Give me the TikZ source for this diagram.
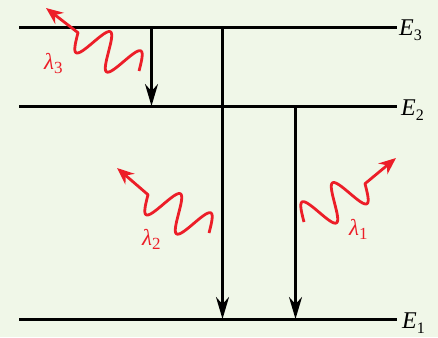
\documentclass[tikz,border=0pt]{standalone}
\usepackage{fontspec}
\setmainfont{Liberation Serif}
\usetikzlibrary{arrows.meta}
\definecolor{bg}{RGB}{240,247,232}
\definecolor{phred}{RGB}{236,30,40}
\begin{document}
\begin{tikzpicture}[x=1pt,y=-1pt,
  level/.style={line width=3pt},
  trans/.style={line width=2.4pt,-{Stealth[length=22pt,width=13pt]}},
  photon/.style={phred,line width=2.8pt,line join=round,-{Stealth[length=17pt,width=14pt]}},
  elabel/.style={anchor=base west,inner sep=0pt,font=\fontsize{24}{24}\selectfont},
  wlabel/.style={anchor=base west,inner sep=0pt,text=phred,font=\fontsize{23}{23}\selectfont}]
\fill[bg] (0,0) rectangle (438,337);
\useasboundingbox (0,0) rectangle (438,337);
% energy levels
\coordinate (l3a) at (19,28);  \coordinate (l3b) at (397,28);
\coordinate (l2a) at (19,106); \coordinate (l2b) at (397,106);
\coordinate (l1a) at (19,319); \coordinate (l1b) at (397,319);
\draw[level] (l3a) -- (l3b);
\draw[level] (l2a) -- (l2b);
\draw[level] (l1a) -- (l1b);
\node[elabel] (E3) at (399,36) {\textit{E}\raisebox{-5pt}{\fontsize{16}{16}\selectfont 3}};
\node[elabel] (E2) at (401,115) {\textit{E}\raisebox{-5pt}{\fontsize{16}{16}\selectfont 2}};
\node[elabel] (E1) at (402,328) {\textit{E}\raisebox{-5pt}{\fontsize{16}{16}\selectfont 1}};
% transitions
\coordinate (t1s) at (151.5,28);  \coordinate (t1e) at (151.5,106);
\coordinate (t2s) at (222.5,28);  \coordinate (t2e) at (222.5,319);
\coordinate (t3s) at (295.5,106); \coordinate (t3e) at (295.5,319);
\draw[trans] (t1s) -- (t1e);
\draw[trans] (t2s) -- (t2e);
\draw[trans] (t3s) -- (t3e);
% photons
\coordinate (p3tip) at (46,8);
\coordinate (p2tip) at (117,168);
\coordinate (p1tip) at (396,158);
\draw[photon] plot[domain=0:72,samples=90,smooth] ({139-0.847*\x+18*0.532*sin(10*\x)},{71-0.532*\x-18*0.847*sin(10*\x)}) -- (p3tip);
\draw[photon] plot[domain=0:72,samples=90,smooth] ({209-0.847*\x+18*0.532*sin(10*\x)},{233-0.532*\x-18*0.847*sin(10*\x)}) -- (p2tip);
\draw[photon] plot[domain=0:72,samples=90,smooth] ({304+0.847*\x-18*0.532*sin(10*\x)},{222-0.532*\x-18*0.847*sin(10*\x)}) -- (p1tip);
\node[wlabel] (L3) at (44,69) {\textit{λ}\raisebox{-4pt}{\fontsize{17}{17}\selectfont 3}};
\node[wlabel] (L2) at (142,245) {\textit{λ}\raisebox{-4pt}{\fontsize{17}{17}\selectfont 2}};
\node[wlabel] (L1) at (349,235) {\textit{λ}\raisebox{-4pt}{\fontsize{17}{17}\selectfont 1}};
\end{tikzpicture}
\end{document}
